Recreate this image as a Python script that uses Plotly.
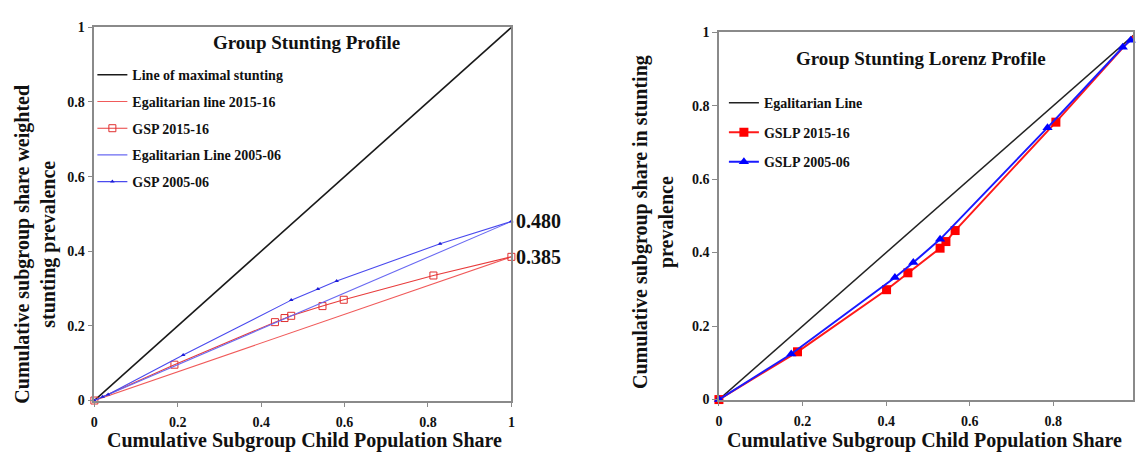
import plotly.graph_objects as go

# ---- Group Stunting Profile (GSP) ----
diag_x = [0, 1]
diag_y = [0, 1]

gsp_end_2016 = 0.385
gsp_end_2006 = 0.480

gsp16_x = [0, 0.192, 0.433, 0.456, 0.472, 0.547, 0.598, 0.813, 1.0]
gsp16_y = [0, 0.096, 0.210, 0.221, 0.227, 0.253, 0.270, 0.335, gsp_end_2016]

gsp06_x = [0, 0.020, 0.033, 0.213, 0.472, 0.536, 0.581, 0.829, 1.0]
gsp06_y = [0, 0.010, 0.016, 0.122, 0.269, 0.299, 0.320, 0.420, gsp_end_2006]

# ---- Group Stunting Lorenz Profile (GSLP) ----
gslp16_x = [0, 0.188, 0.401, 0.452, 0.529, 0.543, 0.565, 0.806, 1.0]
gslp16_y = [0, 0.130, 0.299, 0.345, 0.412, 0.430, 0.460, 0.755, 1.0]

gslp06_x = [0, 0.173, 0.421, 0.465, 0.529, 0.786, 0.966, 0.985]
gslp06_y = [0, 0.124, 0.332, 0.373, 0.436, 0.740, 0.959, 0.978]

tick_vals = [0, 0.2, 0.4, 0.6, 0.8, 1]

W, H = 1137, 453
SERIF = "Liberation Serif, Times New Roman, serif"


def px_x(p):
    return p / W


def px_y(p):
    return 1 - p / H


fig = go.Figure()

# Left panel traces
fig.add_trace(go.Scatter(x=diag_x, y=diag_y, mode="lines", name="Line of maximal stunting",
                         line=dict(color="#1a1a1a", width=1.6), legend="legend",
                         legendgroup="a1", xaxis="x", yaxis="y"))
fig.add_trace(go.Scatter(x=[0, 1], y=[0, gsp_end_2016], mode="lines", name="Egalitarian line 2015-16",
                         line=dict(color="#f05a5a", width=1.1), legend="legend",
                         legendgroup="a2", xaxis="x", yaxis="y"))
fig.add_trace(go.Scatter(x=gsp16_x, y=gsp16_y, mode="lines+markers", name="GSP 2015-16",
                         line=dict(color="#e83c3c", width=1.1),
                         marker=dict(symbol="square-open", size=7, color="#e03030", line=dict(width=1)),
                         legend="legend", legendgroup="a3", xaxis="x", yaxis="y", cliponaxis=False))
fig.add_trace(go.Scatter(x=[0, 1], y=[0, gsp_end_2006], mode="lines", name="Egalitarian Line 2005-06",
                         line=dict(color="#6a6af2", width=1.1), legend="legend",
                         legendgroup="a4", xaxis="x", yaxis="y"))
fig.add_trace(go.Scatter(x=gsp06_x, y=gsp06_y, mode="lines+markers", name="GSP 2005-06",
                         line=dict(color="#4a4aee", width=1.1),
                         marker=dict(symbol="triangle-up", size=4, color="#1c1cd8"),
                         legend="legend", legendgroup="a5", xaxis="x", yaxis="y", cliponaxis=False))

# Right panel traces
fig.add_trace(go.Scatter(x=diag_x, y=diag_y, mode="lines", name="Egalitarian Line",
                         line=dict(color="#222222", width=1.5), legend="legend2",
                         legendgroup="b1", xaxis="x2", yaxis="y2"))
fig.add_trace(go.Scatter(x=gslp16_x, y=gslp16_y, mode="lines+markers", name="GSLP 2015-16",
                         line=dict(color="#ff1a1a", width=2),
                         marker=dict(symbol="square", size=9, color="#ff0000"),
                         legend="legend2", legendgroup="b2", xaxis="x2", yaxis="y2", cliponaxis=False))
fig.add_trace(go.Scatter(x=gslp06_x, y=gslp06_y, mode="lines+markers", name="GSLP 2005-06",
                         line=dict(color="#1a1aff", width=2),
                         marker=dict(symbol="triangle-up", size=9, color="#0000ff"),
                         legend="legend2", legendgroup="b3", xaxis="x2", yaxis="y2", cliponaxis=False))

axis_common = dict(
    showgrid=False, zeroline=False, showline=True, linecolor="#8a8a8a", linewidth=1.5,
    mirror=True, ticks="outside", ticklen=5, tickcolor="#8a8a8a", tickwidth=1,
    tickvals=tick_vals, tickfont=dict(family=SERIF, size=14, color="#111", weight="bold"),
)
x_common = dict(axis_common, ticklabelstandoff=3)

fig.update_layout(
    width=W, height=H,
    margin=dict(l=0, r=0, t=0, b=0),
    paper_bgcolor="white", plot_bgcolor="white",
    xaxis=dict(domain=[px_x(91), px_x(511)], range=[0, 1], anchor="y", **x_common),
    yaxis=dict(domain=[px_y(407), px_y(21)], range=[0, 1], anchor="x", **axis_common),
    xaxis2=dict(domain=[px_x(720), 1.0], range=[0, (W - 720) / 421], anchor="y2", **x_common),
    yaxis2=dict(domain=[px_y(406), px_y(26)], range=[0, 1], anchor="x2", **axis_common),
    legend=dict(x=px_x(89), y=px_y(54), xanchor="left", yanchor="top", bgcolor="rgba(0,0,0,0)",
                font=dict(family=SERIF, size=14, color="#111", weight="bold"),
                tracegroupgap=5.5, itemclick=False),
    legend2=dict(x=px_x(725), y=px_y(83), xanchor="left", yanchor="top", bgcolor="rgba(0,0,0,0)",
                 font=dict(family=SERIF, size=14, color="#111", weight="bold"),
                 tracegroupgap=8.3, itemclick=False),
    showlegend=True,
)

title_font = dict(family=SERIF, size=19, color="#111", weight="bold")
axis_title_font = dict(family=SERIF, size=20, color="#111", weight="bold")
end_font = dict(family=SERIF, size=20, color="#111", weight="bold")

annotations = [
    dict(text="Group Stunting Profile", x=px_x(305), y=px_y(37), xref="paper", yref="paper",
         showarrow=False, font=title_font, xanchor="center", yanchor="middle"),
    dict(text="Group Stunting Lorenz Profile", x=px_x(923), y=px_y(53), xref="paper", yref="paper",
         showarrow=False, font=title_font, xanchor="center", yanchor="middle"),
    dict(text="Cumulative Subgroup Child Population Share", x=px_x(303), y=px_y(448),
         xref="paper", yref="paper", showarrow=False, font=axis_title_font,
         xanchor="center", yanchor="middle"),
    dict(text="Cumulative Subgroup Child Population Share", x=px_x(927), y=px_y(448),
         xref="paper", yref="paper", showarrow=False, font=axis_title_font,
         xanchor="center", yanchor="middle"),
    dict(text="Cumulative subgroup share weighted<br>stunting prevalence", x=px_x(32), y=px_y(245),
         xref="paper", yref="paper", showarrow=False, font=axis_title_font, textangle=-90,
         xanchor="center", yanchor="middle"),
    dict(text="Cumulative subgroup share in stunting<br>prevalence", x=px_x(654), y=px_y(222),
         xref="paper", yref="paper", showarrow=False, font=axis_title_font, textangle=-90,
         xanchor="center", yanchor="middle"),
    dict(text=f"{gsp_end_2006:.3f}", x=1, y=gsp_end_2006, xref="x", yref="y", showarrow=False,
         font=end_font, xanchor="left", yanchor="middle", xshift=3),
    dict(text=f"{gsp_end_2016:.3f}", x=1, y=gsp_end_2016, xref="x", yref="y", showarrow=False,
         font=end_font, xanchor="left", yanchor="middle", xshift=3),
]
fig.update_layout(annotations=annotations)

fig.write_html("out.html")
